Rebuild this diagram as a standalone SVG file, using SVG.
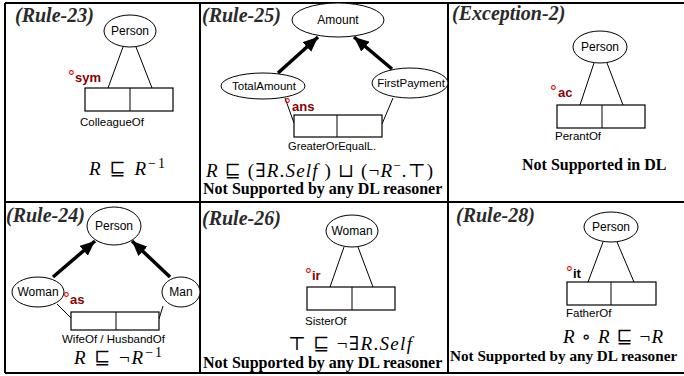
<svg xmlns="http://www.w3.org/2000/svg" width="684" height="376" viewBox="0 0 684 376">
<defs>
<style>
.frame{stroke:#000;stroke-width:2;fill:none}
.ell{fill:#fff;stroke:#000;stroke-width:1}
.box{fill:#fff;stroke:#000;stroke-width:1.2}
.lnk{stroke:#000;stroke-width:1;fill:none}
.isa{stroke:#000;stroke-width:3.5;fill:none;marker-end:url(#ah)}
.lbl{font-family:"Liberation Sans",Arial,sans-serif;font-size:12px;fill:#000}
.mid{text-anchor:middle}
.role{font-family:"Liberation Sans",Arial,sans-serif;font-size:11.5px;fill:#000}
.small{font-size:10px}
.title{font-family:"Liberation Serif","Times New Roman",serif;font-weight:bold;font-style:italic;font-size:20px;fill:#2a2a2a}
.deg{font-family:"Liberation Sans",Arial,sans-serif;font-size:17px;fill:#e00000}
.con{font-family:"Liberation Sans",Arial,sans-serif;font-weight:bold;font-size:13px;fill:#8b0000}
.blk{fill:#000}
.ns{font-family:"Liberation Serif","Times New Roman",serif;font-weight:bold;font-size:16px;fill:#000}
.ns2{font-size:15.2px}
.f{font-family:"Liberation Serif","DejaVu Serif",serif;font-size:19px;fill:#000}
.i{font-style:italic}
</style>
<marker id="ah" markerUnits="userSpaceOnUse" markerWidth="16" markerHeight="13" refX="15" refY="6.5" orient="auto">
<path d="M0,0 L15,6.5 L0,13 z" fill="#000"/>
</marker>
</defs>
<rect width="684" height="376" fill="#fff"/>
<g id="frame" class="frame">
<line x1="5" y1="3" x2="684" y2="3"/>
<line x1="5" y1="373" x2="684" y2="373"/>
<line x1="5" y1="3" x2="5" y2="373"/>
<line x1="200" y1="3" x2="200" y2="373"/>
<line x1="448" y1="3" x2="448" y2="373"/>
<line x1="5" y1="202" x2="684" y2="202"/>
</g>
<g id="connectors">
<line class="lnk" x1="123" y1="47" x2="108" y2="88"/>
<line class="lnk" x1="136" y1="47" x2="152" y2="88"/>
<line class="isa" x1="278" y1="73" x2="318" y2="37"/>
<line class="isa" x1="392" y1="69" x2="354" y2="37"/>
<line class="lnk" x1="285" y1="98" x2="294" y2="123"/>
<line class="lnk" x1="393" y1="98" x2="382" y2="124"/>
<line class="lnk" x1="594" y1="63" x2="580" y2="105"/>
<line class="lnk" x1="607" y1="63" x2="623" y2="105"/>
<line class="isa" x1="53" y1="277" x2="95" y2="241"/>
<line class="isa" x1="170" y1="277" x2="132" y2="241"/>
<line class="lnk" x1="57" y1="304" x2="71" y2="318"/>
<line class="lnk" x1="163" y1="306" x2="159" y2="319"/>
<line class="lnk" x1="344" y1="247" x2="330" y2="287"/>
<line class="lnk" x1="358" y1="247" x2="373" y2="287"/>
<line class="lnk" x1="603" y1="242" x2="588" y2="282"/>
<line class="lnk" x1="617" y1="242" x2="634" y2="282"/>
</g>
<g id="rule23">
<text class="title" x="15" y="22">(Rule-23)</text>
<g id="r23-person"><ellipse class="ell" cx="130" cy="31" rx="26" ry="16"/><text class="lbl mid" x="130" y="35">Person</text></g>
<g id="r23-role"><rect class="box" x="85" y="88" width="88" height="23"/><line class="lnk" x1="130" y1="88" x2="130" y2="111"/>
<text class="deg" x="68" y="82">°</text><text class="con" x="75" y="82">sym</text>
<text class="role" x="80" y="126">ColleagueOf</text></g>
<text class="f" x="89" y="175" textLength="76" lengthAdjust="spacing"><tspan class="i">R</tspan> ⊑ <tspan class="i">R</tspan><tspan dy="-7" font-size="14">−1</tspan></text>
</g>
<g id="rule25">
<text class="title" x="202" y="22">(Rule-25)</text>
<g id="r25-amount"><ellipse class="ell" cx="338" cy="20" rx="46" ry="17"/><text class="lbl mid" x="338" y="24">Amount</text></g>
<g id="r25-total"><ellipse class="ell" cx="263" cy="86" rx="42" ry="13"/><text class="role mid" x="264" y="90">TotalAmount</text></g>
<g id="r25-first"><ellipse class="ell" cx="410" cy="83" rx="38" ry="15"/><text class="role mid" x="411" y="87">FirstPayment</text></g>
<g id="r25-role"><rect class="box" x="294" y="115" width="88" height="22"/><line class="lnk" x1="337" y1="115" x2="337" y2="137"/>
<text class="deg" x="284" y="110">°</text><text class="con" x="292" y="111">ans</text>
<text class="role small" x="288" y="150" textLength="88" lengthAdjust="spacingAndGlyphs">GreaterOrEqualL.</text></g>
<text class="f" x="206" y="177" textLength="227" lengthAdjust="spacing"><tspan class="i">R</tspan> ⊑ (∃<tspan class="i">R</tspan>.<tspan class="i">Self</tspan> ) ⊔ (¬<tspan class="i">R</tspan><tspan dy="-7" font-size="13">−</tspan><tspan dy="7">.⊤)</tspan></text>
<text class="ns" x="203" y="194">Not Supported by any DL reasoner</text>
</g>
<g id="exception2">
<text class="title" x="452" y="20">(Exception-2)</text>
<g id="e2-person"><ellipse class="ell" cx="600" cy="47" rx="27" ry="16"/><text class="lbl mid" x="600" y="51">Person</text></g>
<g id="e2-role"><rect class="box" x="557" y="105" width="88" height="23"/><line class="lnk" x1="602" y1="105" x2="602" y2="128"/>
<text class="deg" x="550" y="97">°</text><text class="con" x="558" y="97">ac</text>
<text class="role" x="555" y="140">PerantOf</text></g>
<text class="ns" x="522" y="170">Not Supported in DL</text>
</g>
<g id="rule24">
<text class="title" x="6" y="222">(Rule-24)</text>
<g id="r24-person"><ellipse class="ell" cx="114" cy="226" rx="27" ry="19"/><text class="lbl mid" x="114" y="230">Person</text></g>
<g id="r24-woman"><ellipse class="ell" cx="38" cy="292" rx="26" ry="15"/><text class="lbl mid" x="38" y="296">Woman</text></g>
<g id="r24-man"><ellipse class="ell" cx="181" cy="292" rx="19" ry="15"/><text class="lbl mid" x="181" y="296">Man</text></g>
<g id="r24-role"><rect class="box" x="71" y="312" width="88" height="18"/><line class="lnk" x1="116" y1="312" x2="116" y2="330"/>
<text class="deg" x="63" y="304">°</text><text class="con" x="70" y="304">as</text>
<text class="role" x="62" y="343">WifeOf / HusbandOf</text></g>
<text class="f" x="74" y="364" textLength="88" lengthAdjust="spacing"><tspan class="i">R</tspan> ⊑ ¬<tspan class="i">R</tspan><tspan dy="-7" font-size="14">−1</tspan></text>
</g>
<g id="rule26">
<text class="title" x="202" y="225">(Rule-26)</text>
<g id="r26-woman"><ellipse class="ell" cx="352" cy="231" rx="26" ry="16"/><text class="lbl mid" x="352" y="235">Woman</text></g>
<g id="r26-role"><rect class="box" x="307" y="287" width="88" height="23"/><line class="lnk" x1="352" y1="287" x2="352" y2="310"/>
<text class="deg" x="305" y="280">°</text><text class="con" x="312" y="280">ir</text>
<text class="role" x="305" y="325">SisterOf</text></g>
<text class="f" x="288" y="350" textLength="124" lengthAdjust="spacing">⊤ ⊑ ¬∃<tspan class="i">R</tspan>.<tspan class="i">Self</tspan></text>
<text class="ns" x="203" y="368">Not Supported by any DL reasoner</text>
</g>
<g id="rule28">
<text class="title" x="456" y="222">(Rule-28)</text>
<g id="r28-person"><ellipse class="ell" cx="611" cy="227" rx="27" ry="15"/><text class="lbl mid" x="611" y="231">Person</text></g>
<g id="r28-role"><rect class="box" x="567" y="282" width="89" height="23"/><line class="lnk" x1="611" y1="282" x2="611" y2="305"/>
<text class="deg" x="566" y="278">°</text><text class="con blk" x="573" y="278">it</text>
<text class="role" x="566" y="317">FatherOf</text></g>
<text class="f" x="563" y="343" textLength="100" lengthAdjust="spacing"><tspan class="i">R</tspan> ∘ <tspan class="i">R</tspan> ⊑ ¬<tspan class="i">R</tspan></text>
<text class="ns ns2" x="450" y="361">Not Supported by any DL reasoner</text>
</g>
</svg>
